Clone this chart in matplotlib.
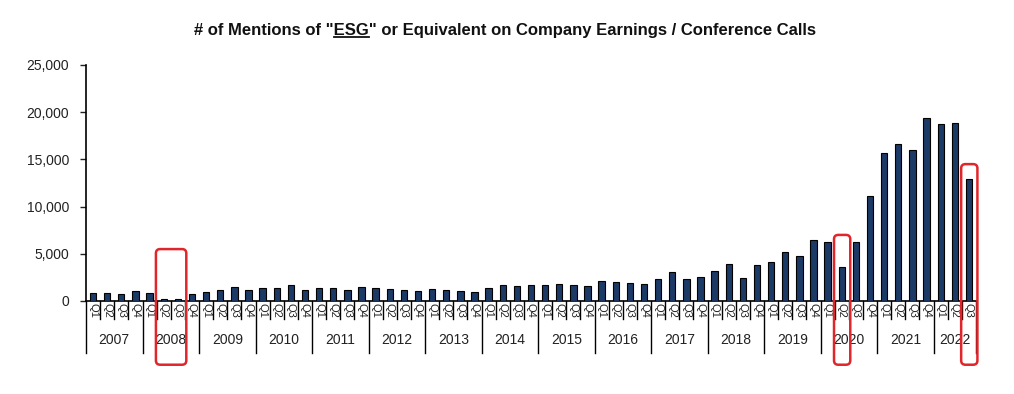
import matplotlib
matplotlib.use('Agg')
import matplotlib.pyplot as plt
import matplotlib.transforms as mtransforms
from matplotlib.patches import FancyBboxPatch
from matplotlib.ticker import FuncFormatter

plt.rcParams['font.family'] = ['Liberation Sans', 'DejaVu Sans']

years = list(range(2007, 2023))
quarters = ['Q1', 'Q2', 'Q3', 'Q4']
mentions = [800, 800, 710, 1060,
            885, 250, 210, 710,
            955, 1130, 1490, 1200,
            1380, 1420, 1700, 1170,
            1380, 1420, 1130, 1520,
            1345, 1270, 1200, 1030,
            1310, 1170, 1030, 955,
            1420, 1735, 1590, 1700,
            1735, 1840, 1660, 1590,
            2160, 2020, 1910, 1800,
            2340, 3040, 2300, 2550,
            3190, 3960, 2440, 3790,
            4140, 5240, 4740, 6410,
            6270, 3610, 6300, 11120,
            15680, 16600, 16040, 19430,
            18760, 18900, 12920]
# highlighted bars: (first index, last index, box top value)
highlights = [(5, 6, 5500), (53, 53, 7000), (62, 62, 14500)]

n = len(mentions)
q_labels = [quarters[i % 4] for i in range(n)]
x = list(range(n))

fig = plt.figure(figsize=(10.14, 3.94), dpi=100)
ax = fig.add_axes([86 / 1014, 1 - 301 / 394, 890 / 1014, 236 / 394])

ax.bar(x, mentions, width=0.45, color='#1c3a66', edgecolor='black', linewidth=0.8, zorder=3)
ax.set_xlim(-0.5, n - 0.5)
ax.set_ylim(0, 25000)
ax.set_yticks(range(0, 25001, 5000))
ax.yaxis.set_major_formatter(FuncFormatter(lambda v, p: '{:,.0f}'.format(v)))
ax.tick_params(axis='y', direction='out', length=4, width=1, labelsize=10, pad=8, colors='#222222')
ax.tick_params(axis='x', length=0, labelbottom=False)
for s in ['top', 'right']:
    ax.spines[s].set_visible(False)
ax.spines['left'].set_linewidth(1.2)
ax.spines['bottom'].set_linewidth(1.2)

trans = mtransforms.blended_transform_factory(ax.transData, ax.transAxes)

# quarter labels and separators
for i, q in enumerate(q_labels):
    ax.text(i, -0.008, q, transform=trans, rotation=270, ha='center', va='top',
            fontsize=8, color='#222222')
for i in range(n + 1):
    bottom = -0.22 if (i % 4 == 0 or i == n) else -0.075
    ax.plot([i - 0.5, i - 0.5], [0, bottom], transform=trans, color='black',
            lw=1.0, clip_on=False)

# year labels
for k, yr in enumerate(years):
    first = k * 4
    last = min(first + 3, n - 1)
    ax.text((first + last) / 2, -0.165, str(yr), transform=trans, ha='center',
            va='center', fontsize=10, color='#222222')

# red highlight boxes
y_per_px = 25000 / 236
x_per_px = n / 890
aspect = y_per_px / x_per_px
box_bottom = -0.27 * 25000
for first, last, top in highlights:
    x0 = first - 0.55
    w = (last - first) + 1.15
    box = FancyBboxPatch((x0, box_bottom), w, top - box_bottom,
                         boxstyle='round,pad=0,rounding_size=0.3',
                         mutation_aspect=aspect, transform=ax.transData,
                         fill=False, edgecolor='#e0262b', linewidth=1.8,
                         clip_on=False, zorder=5)
    ax.add_patch(box)

# title with underlined ESG
pre = '# of Mentions of "'
mid = 'ESG'
post = '" or Equivalent on Company Earnings / Conference Calls'
title_kw = dict(fontsize=12, fontweight='bold', color='#111111')
title = fig.text(0.498, 1 - 30 / 394, pre + mid + post, ha='center', va='center', **title_kw)
fig.canvas.draw()
r = fig.canvas.get_renderer()
tb = title.get_window_extent(r)
t1 = fig.text(0, 0, pre, **title_kw)
t2 = fig.text(0, 0, mid, **title_kw)
w1 = t1.get_window_extent(r).width
w2 = t2.get_window_extent(r).width
t1.remove()
t2.remove()
uy = tb.y0 + 1
fig.add_artist(plt.Line2D([tb.x0 + w1, tb.x0 + w1 + w2], [uy, uy],
                          transform=None, color='#111111', lw=1.3))

fig.savefig('out.png', dpi=100)
